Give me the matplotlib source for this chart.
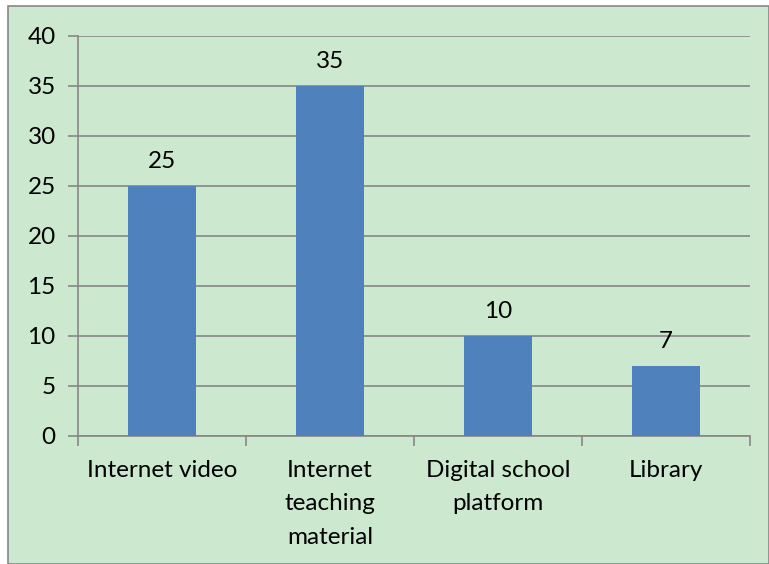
import matplotlib
matplotlib.use("Agg")
import matplotlib.pyplot as plt
from matplotlib.patches import Rectangle

categories = ["Internet video", "Internet\nteaching\nmaterial", "Digital school\nplatform", "Library"]
values = [25, 35, 10, 7]
y_ticks = [0, 5, 10, 15, 20, 25, 30, 35, 40]

bg = "#CCE8CF"
grid_col = "#878787"
bar_col = "#4F81BD"
fs = 17.5

plt.rcParams['font.family'] = ['Lato', 'DejaVu Sans']

W, H = 769, 564
fig = plt.figure(figsize=(W / 100, H / 100), dpi=100)
fig.patch.set_facecolor("white")
# chart frame
fig.patches.append(Rectangle((8 / W, 0), 1 - 8 / W, 1 - 6 / H, transform=fig.transFigure,
                             facecolor=bg, edgecolor=grid_col, linewidth=1.2, zorder=-5))

ax = fig.add_axes([78 / W, 1 - 436 / H, (750 - 78) / W, 400 / H])
ax.set_zorder(2)
ax.patch.set_alpha(0)

x = range(len(categories))
ax.bar(x, values, width=0.4, color=bar_col, zorder=3)
for xi, v in zip(x, values):
    ax.annotate(str(v), (xi, v), xytext=(0, 10), textcoords="offset points",
                ha="center", va="bottom", fontsize=fs, color="black")

ax.set_xlim(-0.5, len(categories) - 0.5)
ax.set_ylim(0, 40)
ax.set_yticks(y_ticks)
ax.yaxis.grid(True, color=grid_col, linewidth=1.2, zorder=0)
ax.set_axisbelow(True)

ax.set_xticks([i - 0.5 for i in range(len(categories) + 1)], minor=False)
ax.set_xticklabels([])
ax.set_xticks(list(x), minor=True)
ax.set_xticklabels(categories, minor=True, fontsize=fs, linespacing=1.75)
ax.tick_params(axis="x", which="minor", length=0, pad=17)
ax.tick_params(axis="x", which="major", length=7, width=1.2, color=grid_col)
ax.tick_params(axis="y", length=7, width=1.2, color=grid_col, labelsize=fs, pad=9)
for lbl in ax.get_xticklabels(minor=True):
    lbl.set_verticalalignment("top")

for side in ["top", "right"]:
    ax.spines[side].set_visible(False)
for side in ["left", "bottom"]:
    ax.spines[side].set_color(grid_col)
    ax.spines[side].set_linewidth(1.2)

fig.savefig("out.png", dpi=100)
